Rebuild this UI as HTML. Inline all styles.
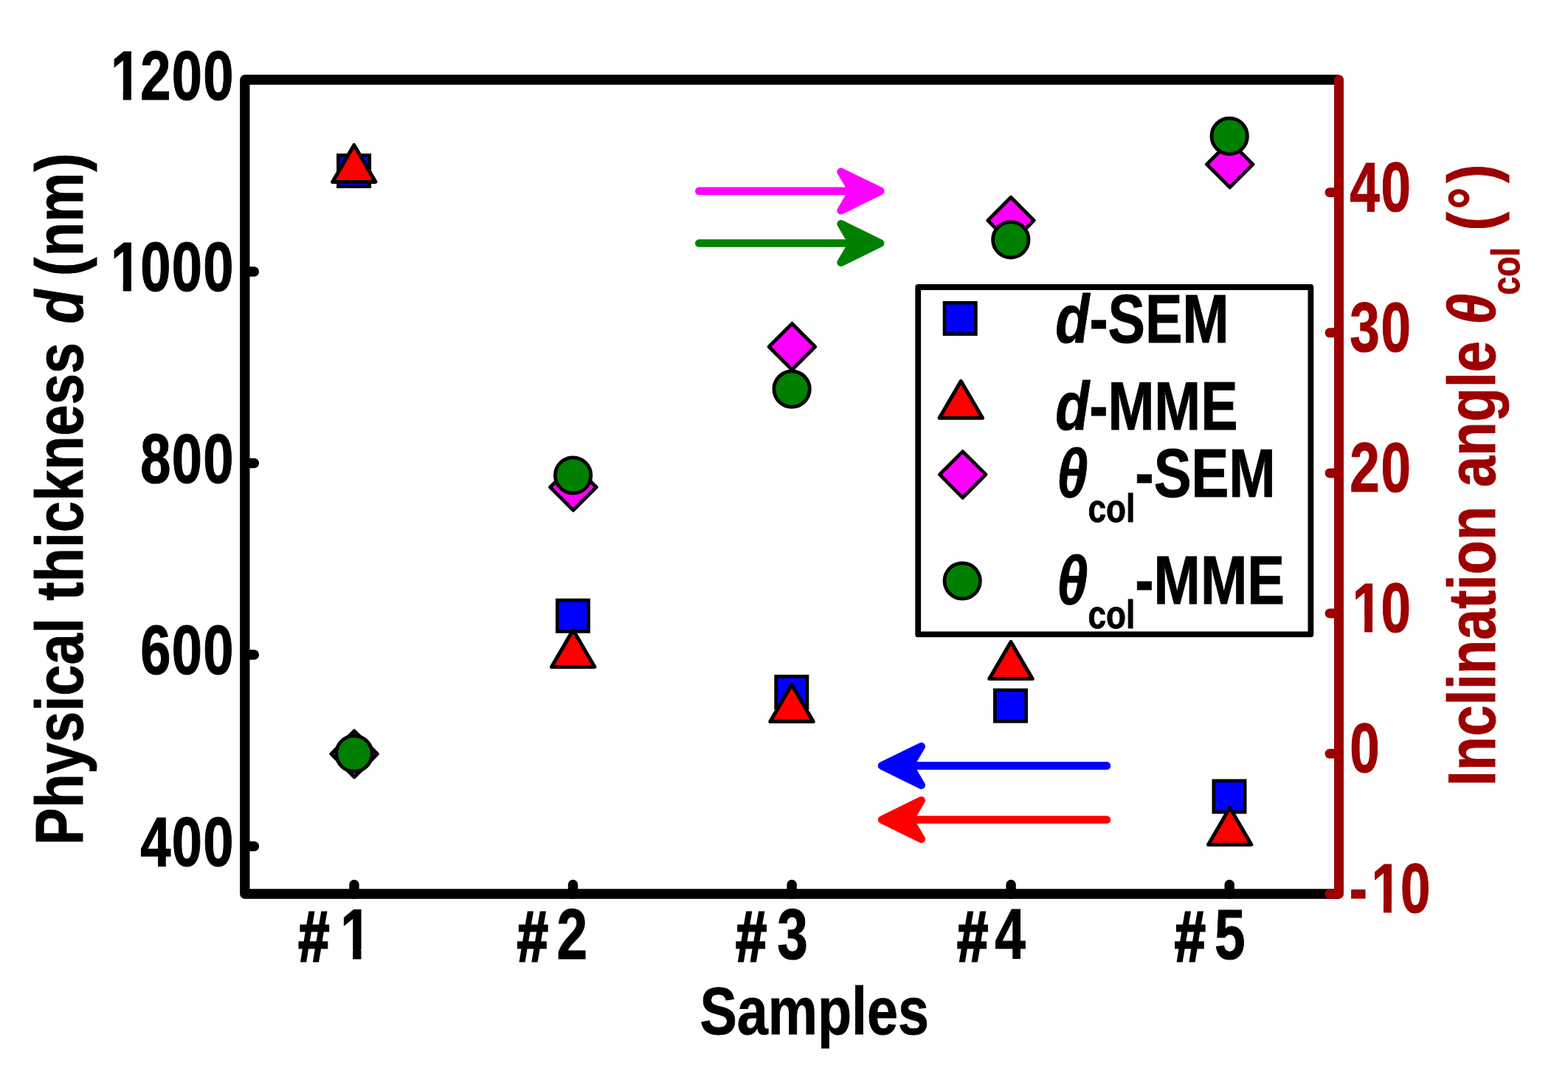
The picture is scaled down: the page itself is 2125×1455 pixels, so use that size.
<!DOCTYPE html>
<html lang="en"><head><meta charset="utf-8"><title>Physical thickness and inclination angle vs samples</title>
<style>html,body{margin:0;padding:0;background:#fff}svg{display:block}text{font-family:"Liberation Sans",sans-serif;font-weight:bold;font-kerning:none;font-variant-ligatures:none;white-space:pre}.i{font-style:italic}</style></head><body>
<svg width="2125" height="1455" viewBox="0 0 2125 1455">
<defs><clipPath id="k1"><path clip-rule="evenodd" d="M-400,-150H1200V80H-400ZM2.98,-12.79H21.57V4H2.98ZM35.81,-12.79H53.19V4H35.81Z"/></clipPath><clipPath id="k2"><path clip-rule="evenodd" d="M-400,-150H1200V80H-400ZM2.91,-12.68H21.32V4H2.91ZM35.4,-12.68H52.61V4H35.4Z"/></clipPath><clipPath id="k3"><path clip-rule="evenodd" d="M-400,-150H1200V80H-400ZM41.2,-12.68H59.6V4H41.2ZM73.69,-12.68H90.9V4H73.69Z"/></clipPath><clipPath id="k4"><path clip-rule="evenodd" d="M-400,-150H1200V80H-400ZM75.62,-12.93H94.43V4H75.62ZM108.85,-12.93H126.43V4H108.85Z"/></clipPath></defs>
<rect width="2125" height="1455" fill="#fff"/>
<!-- frame and ticks -->
<path d="M1814.5,108 H331.8 V1211 H1814.5" fill="none" stroke="#000" stroke-width="13.3" stroke-linejoin="round"/>
<g stroke="#000" stroke-width="13.4" stroke-linecap="round">
<line x1="331.8" y1="368" x2="344.4" y2="368"/>
<line x1="331.8" y1="627.5" x2="344.4" y2="627.5"/>
<line x1="331.8" y1="887" x2="344.4" y2="887"/>
<line x1="331.8" y1="1146.5" x2="344.4" y2="1146.5"/>
<line x1="480" y1="1211" x2="480" y2="1198.5"/>
<line x1="776.5" y1="1211" x2="776.5" y2="1198.5"/>
<line x1="1073.1" y1="1211" x2="1073.1" y2="1198.5"/>
<line x1="1370.1" y1="1211" x2="1370.1" y2="1198.5"/>
<line x1="1666.2" y1="1211" x2="1666.2" y2="1198.5"/>
</g>
<g stroke="#9c0000" stroke-width="13" stroke-linecap="round" fill="none">
<line x1="1814.5" y1="108" x2="1814.5" y2="1211"/>
<line x1="1814.5" y1="260.7" x2="1802" y2="260.7"/>
<line x1="1814.5" y1="450.8" x2="1802" y2="450.8"/>
<line x1="1814.5" y1="640.9" x2="1802" y2="640.9"/>
<line x1="1814.5" y1="831" x2="1802" y2="831"/>
<line x1="1814.5" y1="1021.1" x2="1802" y2="1021.1"/>
<line x1="1814.5" y1="1211" x2="1802" y2="1211"/>
</g>
<!-- tick labels -->
<text transform="translate(149.94,134.8) scale(0.78,1)" stroke="#000" stroke-width="1.2" clip-path="url(#k1)" x="0 51.78 106.21 160.63" style="font-size:95px">1200</text>
<text transform="translate(149.94,394.3) scale(0.78,1)" stroke="#000" stroke-width="1.2" clip-path="url(#k1)" x="0 51.78 106.21 160.63" style="font-size:95px">1000</text>
<text transform="translate(190.33,653.8) scale(0.78,1)" stroke="#000" stroke-width="1.2" x="0 54.42 108.85" style="font-size:95px">800</text>
<text transform="translate(190.33,913.3) scale(0.78,1)" stroke="#000" stroke-width="1.2" x="0 54.42 108.85" style="font-size:95px">600</text>
<text transform="translate(190.33,1172.8) scale(0.78,1)" stroke="#000" stroke-width="1.2" x="0 54.42 108.85" style="font-size:95px">400</text>
<text transform="translate(1829.3,286.2) scale(0.775,1)" fill="#9c0000" stroke="#9c0000" stroke-width="1.2" x="0 54.58" style="font-size:93.9px">40</text>
<text transform="translate(1829.3,476.2) scale(0.775,1)" fill="#9c0000" stroke="#9c0000" stroke-width="1.2" x="0 54.58" style="font-size:93.9px">30</text>
<text transform="translate(1829.3,666.2) scale(0.775,1)" fill="#9c0000" stroke="#9c0000" stroke-width="1.2" x="0 54.58" style="font-size:93.9px">20</text>
<text transform="translate(1832.63,856.2) scale(0.775,1)" fill="#9c0000" stroke="#9c0000" stroke-width="1.2" clip-path="url(#k2)" x="0 50.28" style="font-size:93.9px">10</text>
<text transform="translate(1829.3,1046.2) scale(0.775,1)" fill="#9c0000" stroke="#9c0000" stroke-width="1.2" style="font-size:93.9px">0</text>
<text transform="translate(1828.76,1236.2) scale(0.775,1)" fill="#9c0000" stroke="#9c0000" stroke-width="1.2" clip-path="url(#k3)" x="0 38.29 89.24" style="font-size:93.9px">-10</text>
<text transform="translate(404.57,1298.9) scale(0.78,1)" stroke="#000" stroke-width="1.2" clip-path="url(#k4)" style="font-size:96px"><tspan dy="2.65" stroke="#000" stroke-width="3.2">#</tspan><tspan x="72.56" dy="-2.65" style="font-size:96.3px">1</tspan></text>
<text transform="translate(701.07,1298.9) scale(0.78,1)" stroke="#000" stroke-width="1.2" style="font-size:96px"><tspan dy="2.65" stroke="#000" stroke-width="3.2">#</tspan><tspan x="68.51" dy="-2.65" style="font-size:95.8px">2</tspan></text>
<text transform="translate(997.37,1298.9) scale(0.78,1)" stroke="#000" stroke-width="1.2" style="font-size:96px"><tspan dy="2.65" stroke="#000" stroke-width="3.2">#</tspan><tspan x="71.56" dy="-2.65" style="font-size:95.8px">3</tspan></text>
<text transform="translate(1297.37,1298.9) scale(0.78,1)" stroke="#000" stroke-width="1.2" style="font-size:96px"><tspan dy="2.65" stroke="#000" stroke-width="3.2">#</tspan><tspan x="65.13" dy="-2.65" style="font-size:95.8px">4</tspan></text>
<text transform="translate(1592.07,1298.9) scale(0.78,1)" stroke="#000" stroke-width="1.2" style="font-size:96px"><tspan dy="2.65" stroke="#000" stroke-width="3.2">#</tspan><tspan x="69.14" dy="-2.65" style="font-size:95.8px">5</tspan></text>
<!-- axis titles -->
<text transform="translate(948.43,1401.4) scale(0.8269,1)" stroke="#000" stroke-width="0.9" style="font-size:91.3px">Samples</text>
<text transform="translate(112.4,1145.07) rotate(-90) scale(0.8308,1)" stroke="#000" stroke-width="0.9" style="font-size:91.3px">Physical <tspan x="398.7">thickness </tspan><tspan x="850.16" class="i">d </tspan><tspan x="928.12 960.35 1016.12 1098.44">(nm)</tspan></text>
<text transform="translate(2026.2,1064.97) rotate(-90) scale(0.8308,1)" fill="#9c0000" stroke="#9c0000" stroke-width="0.9" style="font-size:91.3px">Inclination <tspan x="487.41">angle </tspan><tspan x="752.24" class="i">θ</tspan><tspan x="800.56" dy="32.7" style="font-size:54.01px">col </tspan><tspan x="905.85 940.21 983.73" dy="-32.7">(°)</tspan></text>
<!-- arrows -->
<g fill="#ff00ff" stroke="#ff00ff" stroke-linejoin="round" stroke-linecap="round">
<line x1="947.35" y1="258.9" x2="1155.15" y2="258.9" stroke-width="10.7"/>
<polygon points="1193.15,258.9 1139.65,232.7 1155.15,258.9 1139.65,285.1" stroke-width="10.7"/>
</g>
<g fill="#008000" stroke="#008000" stroke-linejoin="round" stroke-linecap="round">
<line x1="947.35" y1="329.5" x2="1155.15" y2="329.5" stroke-width="10.7"/>
<polygon points="1193.15,329.5 1139.65,303.3 1155.15,329.5 1139.65,355.7" stroke-width="10.7"/>
</g>
<g fill="#0000ff" stroke="#0000ff" stroke-linejoin="round" stroke-linecap="round">
<line x1="1499.85" y1="1037.4" x2="1233.15" y2="1037.4" stroke-width="10.7"/>
<polygon points="1195.15,1037.4 1248.65,1011.2 1233.15,1037.4 1248.65,1063.6" stroke-width="10.7"/>
</g>
<g fill="#ff0000" stroke="#ff0000" stroke-linejoin="round" stroke-linecap="round">
<line x1="1499.85" y1="1110.5" x2="1233.15" y2="1110.5" stroke-width="10.7"/>
<polygon points="1195.15,1110.5 1248.65,1084.3 1233.15,1110.5 1248.65,1136.7" stroke-width="10.7"/>
</g>
<!-- data markers -->
<rect x="458.4" y="210.3" width="42.4" height="42.4" fill="#0000ff" stroke="#000" stroke-width="4.6"/>
<rect x="755.2" y="813.1" width="42.4" height="42.4" fill="#0000ff" stroke="#000" stroke-width="4.6"/>
<rect x="1051.6" y="916.4" width="42.4" height="42.4" fill="#0000ff" stroke="#000" stroke-width="4.6"/>
<rect x="1348.3" y="934.9" width="42.4" height="42.4" fill="#0000ff" stroke="#000" stroke-width="4.6"/>
<rect x="1644.8" y="1057.8" width="42.4" height="42.4" fill="#0000ff" stroke="#000" stroke-width="4.6"/>
<polygon points="479.8,196.4 509,246.4 450.6,246.4" fill="#ff0000" stroke="#000" stroke-width="5" stroke-linejoin="round"/>
<polygon points="776.7,853.4 805.9,903.4 747.5,903.4" fill="#ff0000" stroke="#000" stroke-width="5" stroke-linejoin="round"/>
<polygon points="1073,927.5 1102.2,977.5 1043.8,977.5" fill="#ff0000" stroke="#000" stroke-width="5" stroke-linejoin="round"/>
<polygon points="1370,869.5 1399.2,919.5 1340.8,919.5" fill="#ff0000" stroke="#000" stroke-width="5" stroke-linejoin="round"/>
<polygon points="1666.7,1094.2 1695.9,1144.2 1637.5,1144.2" fill="#ff0000" stroke="#000" stroke-width="5" stroke-linejoin="round"/>
<polygon points="480.1,990.1 511.4,1021.4 480.1,1052.7 448.8,1021.4" fill="#ff00ff" stroke="#000" stroke-width="4.8" stroke-linejoin="round"/>
<polygon points="776.9,628.7 808.2,660 776.9,691.3 745.6,660" fill="#ff00ff" stroke="#000" stroke-width="4.8" stroke-linejoin="round"/>
<polygon points="1073.4,438.4 1104.7,469.7 1073.4,501 1042.1,469.7" fill="#ff00ff" stroke="#000" stroke-width="4.8" stroke-linejoin="round"/>
<polygon points="1370,267.3 1401.3,298.6 1370,329.9 1338.7,298.6" fill="#ff00ff" stroke="#000" stroke-width="4.8" stroke-linejoin="round"/>
<polygon points="1666.7,191.3 1698,222.6 1666.7,253.9 1635.4,222.6" fill="#ff00ff" stroke="#000" stroke-width="4.8" stroke-linejoin="round"/>
<circle cx="480" cy="1021" r="24.2" fill="#008000" stroke="#000" stroke-width="4.8"/>
<circle cx="776.6" cy="644" r="24.2" fill="#008000" stroke="#000" stroke-width="4.8"/>
<circle cx="1073.1" cy="527.1" r="24.2" fill="#008000" stroke="#000" stroke-width="4.8"/>
<circle cx="1369.8" cy="324.8" r="24.2" fill="#008000" stroke="#000" stroke-width="4.8"/>
<circle cx="1666.2" cy="184.4" r="24.2" fill="#008000" stroke="#000" stroke-width="4.8"/>
<!-- legend -->
<rect x="1244.2" y="389" width="532.2" height="470.4" fill="#fff" stroke="#000" stroke-width="7.8" stroke-linejoin="round"/>
<rect x="1280" y="410.2" width="42.4" height="42.4" fill="#0000ff" stroke="#000" stroke-width="4.6"/>
<polygon points="1302.3,516.3 1331.5,566.3 1273.1,566.3" fill="#ff0000" stroke="#000" stroke-width="5" stroke-linejoin="round"/>
<polygon points="1304.7,611.6 1336,642.9 1304.7,674.2 1273.4,642.9" fill="#ff00ff" stroke="#000" stroke-width="4.8" stroke-linejoin="round"/>
<circle cx="1304.2" cy="787" r="24.2" fill="#008000" stroke="#000" stroke-width="4.8"/>
<text transform="translate(1430.26,463.8) scale(0.8209,1)" stroke="#000" stroke-width="0.9" style="font-size:92.1px"><tspan class="i">d</tspan>-SEM</text>
<text transform="translate(1430.26,581.9) scale(0.8194,1)" stroke="#000" stroke-width="0.9" style="font-size:92.1px"><tspan class="i">d</tspan>-MME</text>
<text transform="translate(1431.98,673.1) scale(0.8273,1)" stroke="#000" stroke-width="0.9" style="font-size:92.1px"><tspan class="i">θ</tspan><tspan dy="33.5" style="font-size:53.42px">col</tspan><tspan dy="-33.5">-SEM</tspan></text>
<text transform="translate(1431.99,817.5) scale(0.8263,1)" stroke="#000" stroke-width="0.9" style="font-size:92.1px"><tspan class="i">θ</tspan><tspan dy="33.5" style="font-size:53.42px">col</tspan><tspan dy="-33.5">-MME</tspan></text>
</svg></body></html>
